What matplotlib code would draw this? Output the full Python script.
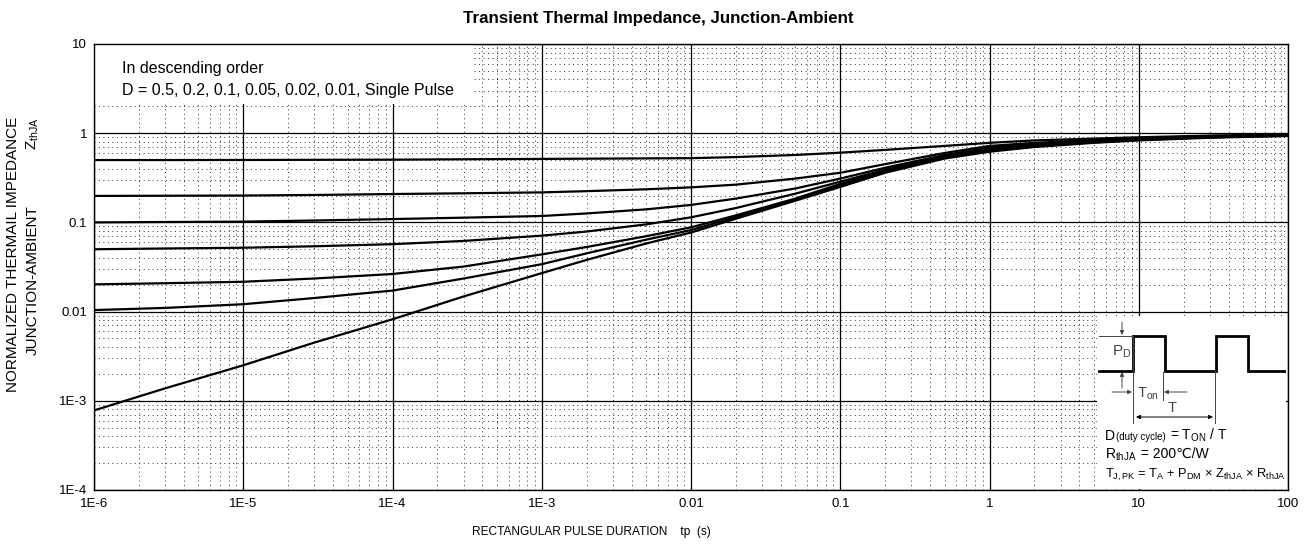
import matplotlib
matplotlib.use('Agg')
import matplotlib.pyplot as plt
from matplotlib.patches import Rectangle
from matplotlib.ticker import LogLocator, NullFormatter

plt.rcParams['font.family'] = ['Liberation Sans', 'DejaVu Sans']
plt.rcParams['mathtext.fontset'] = 'custom'
plt.rcParams['mathtext.rm'] = 'Liberation Sans'
plt.rcParams['mathtext.it'] = 'Liberation Sans:italic'
plt.rcParams['mathtext.bf'] = 'Liberation Sans:bold'

# pulse duration (s)
tp = [1e-6, 3e-6, 1e-5, 3e-5, 1e-4, 3e-4, 1e-3, 2e-3, 5e-3, 1e-2, 2e-2, 5e-2,
      0.1, 0.2, 0.5, 1, 2, 5, 10, 30, 100]
# normalized Zth for each duty cycle
z_d050 = [0.500, 0.500, 0.501, 0.503, 0.505, 0.510, 0.515, 0.518, 0.522, 0.525, 0.54, 0.57,
          0.605, 0.65, 0.72, 0.78, 0.83, 0.87, 0.90, 0.94, 0.97]
z_d020 = [0.198, 0.199, 0.200, 0.203, 0.208, 0.212, 0.217, 0.224, 0.235, 0.247, 0.265, 0.31,
          0.36, 0.45, 0.60, 0.72, 0.78, 0.84, 0.88, 0.93, 0.96]
z_d010 = [0.100, 0.101, 0.102, 0.105, 0.109, 0.113, 0.118, 0.126, 0.140, 0.157, 0.185, 0.24,
          0.31, 0.41, 0.57, 0.69, 0.76, 0.82, 0.87, 0.92, 0.95]
z_d005 = [0.050, 0.051, 0.052, 0.054, 0.057, 0.062, 0.071, 0.079, 0.095, 0.114, 0.145, 0.21,
          0.286, 0.39, 0.56, 0.67, 0.74, 0.81, 0.86, 0.91, 0.95]
z_d002 = [0.0202, 0.0208, 0.0216, 0.0235, 0.0264, 0.032, 0.0438, 0.053, 0.070, 0.088, 0.12, 0.185,
          0.27, 0.38, 0.54, 0.65, 0.72, 0.80, 0.85, 0.90, 0.94]
z_d001 = [0.0104, 0.0110, 0.0121, 0.0142, 0.0172, 0.0235, 0.034, 0.045, 0.064, 0.082, 0.115, 0.18,
          0.26, 0.37, 0.53, 0.64, 0.71, 0.79, 0.84, 0.90, 0.94]
z_single = [0.00078, 0.00138, 0.0025, 0.0045, 0.0082, 0.0148, 0.027, 0.038, 0.058, 0.077, 0.11, 0.175,
            0.25, 0.36, 0.52, 0.62, 0.70, 0.78, 0.83, 0.89, 0.93]

x_ticks = [1e-6, 1e-5, 1e-4, 1e-3, 1e-2, 0.1, 1, 10, 100]
x_labels = ['1E-6', '1E-5', '1E-4', '1E-3', '0.01', '0.1', '1', '10', '100']
y_ticks = [1e-4, 1e-3, 1e-2, 0.1, 1, 10]
y_labels = ['1E-4', '1E-3', '0.01', '0.1', '1', '10']

W, H = 1310, 545
fig = plt.figure(figsize=(W / 100, H / 100), dpi=100)
ax = fig.add_axes([94 / W, 55 / H, 1194 / W, 446 / H])

for z in [z_d050, z_d020, z_d010, z_d005, z_d002, z_d001, z_single]:
    ax.plot(tp, z, color='black', lw=1.6, zorder=3, solid_joinstyle='round')

ax.set_xscale('log')
ax.set_yscale('log')
ax.set_xlim(1e-6, 100)
ax.set_ylim(1e-4, 10)
ax.set_xticks(x_ticks)
ax.set_xticklabels(x_labels)
ax.set_yticks(y_ticks)
ax.set_yticklabels(y_labels)
ax.xaxis.set_minor_locator(LogLocator(base=10, subs=range(2, 10), numticks=50))
ax.yaxis.set_minor_locator(LogLocator(base=10, subs=range(2, 10), numticks=50))
ax.xaxis.set_minor_formatter(NullFormatter())
ax.yaxis.set_minor_formatter(NullFormatter())
ax.tick_params(which='both', length=0, labelsize=9.5)
ax.tick_params(axis='x', pad=6)
ax.tick_params(axis='y', pad=5)

ax.set_axisbelow(True)
ax.grid(which='major', color='black', lw=0.9, ls='-')
ax.grid(which='minor', color='#333333', lw=0.7, ls=(0, (1, 3.6)))
for s in ax.spines.values():
    s.set_color('black')
    s.set_linewidth(1.0)

# white box behind the note in the upper left
ax.add_patch(Rectangle((0, 0.866), 0.318, 0.134, transform=ax.transAxes,
                       fc='white', ec='none', zorder=1))


def px(x, y):
    return x / W, 1 - y / H


fig.text(*px(122, 68), 'In descending order', fontsize=11.5, va='center')
fig.text(*px(122, 90), 'D = 0.5, 0.2, 0.1, 0.05, 0.02, 0.01, Single Pulse',
         fontsize=11.5, va='center')

fig.text(*px(658, 19), 'Transient Thermal Impedance, Junction-Ambient',
         fontsize=12.2, fontweight='bold', ha='center', va='center')
fig.text(*px(591, 532), 'RECTANGULAR PULSE DURATION    tp  (s)',
         fontsize=8.6, ha='center', va='center')
fig.text(*px(13, 254), 'NORMALIZED THERMAIL IMPEDANCE', fontsize=11,
         rotation=90, ha='center', va='center')
fig.text(*px(33, 280), 'JUNCTION-AMBIENT', fontsize=11,
         rotation=90, ha='center', va='center')
fig.text(*px(33, 134), r'$\mathrm{Z_{thJA}}$', fontsize=11,
         rotation=90, ha='center', va='center')

# inset with the pulse sketch
iax = fig.add_axes([1097 / W, (H - 489) / H, 189 / W, 173 / H], zorder=5)
iax.set_xlim(0, 189)
iax.set_ylim(173, 0)
iax.set_facecolor('white')
iax.set_xticks([])
iax.set_yticks([])
for s in iax.spines.values():
    s.set_visible(False)

wave_x = [2, 36, 36, 68, 68, 119, 119, 151, 151, 188]
wave_y = [54.7, 54.7, 20, 20, 54.7, 54.7, 20, 20, 54.7, 54.7]
iax.plot(wave_x, wave_y, color='black', lw=2.0, solid_joinstyle='miter')

gray = '#444444'
iax.plot([2, 36], [20, 20], color=gray, lw=0.7)
iax.plot([36, 36], [20, 107], color=gray, lw=0.7)
iax.plot([118, 118], [55, 107], color=gray, lw=0.7)
iax.plot([66, 66], [56, 84], color=gray, lw=0.7)

arrow = dict(arrowstyle='-|>', color=gray, lw=0.7, mutation_scale=6,
             shrinkA=0, shrinkB=0)
iax.annotate('', xy=(25, 19), xytext=(25, 6), arrowprops=arrow)
iax.annotate('', xy=(25, 56), xytext=(25, 72), arrowprops=arrow)
iax.annotate('', xy=(35, 76), xytext=(15, 76), arrowprops=arrow)
iax.annotate('', xy=(67, 76), xytext=(90, 76), arrowprops=arrow)
iax.annotate('', xy=(39, 101), xytext=(116, 101),
             arrowprops=dict(arrowstyle='<|-|>', color='black', lw=0.7,
                             mutation_scale=6, shrinkA=0, shrinkB=0))

iax.text(25, 36, r'$\mathrm{P_D}$', color=gray, fontsize=11, ha='center', va='center')
iax.text(51, 78, r'$\mathrm{T_{on}}$', color=gray, fontsize=10.5, ha='center', va='center')
iax.text(75, 92, 'T', color=gray, fontsize=10.5, ha='center', va='center')

iax.text(8, 124, 'D', fontsize=10, va='baseline')
iax.text(19, 124, '(duty cycle)', fontsize=7.0, va='baseline')
iax.text(73, 124, r'= $\mathrm{T_{ON}}$ / T', fontsize=10, va='baseline')
r_txt = iax.text(8, 143, r'$\mathrm{R_{thJA}}$', fontsize=10, va='baseline')
iax.annotate(' = 200℃/W', xy=(1, 0.32), xycoords=r_txt, fontsize=10,
             va='baseline', ha='left')
iax.text(8, 162, r'$\mathrm{T_{J,PK}}$ = $\mathrm{T_A}$ + $\mathrm{P_{DM}}$ × '
         r'$\mathrm{Z_{thJA}}$ × $\mathrm{R_{thJA}}$', fontsize=9.3, va='baseline')

fig.savefig('out.png', dpi=100)
